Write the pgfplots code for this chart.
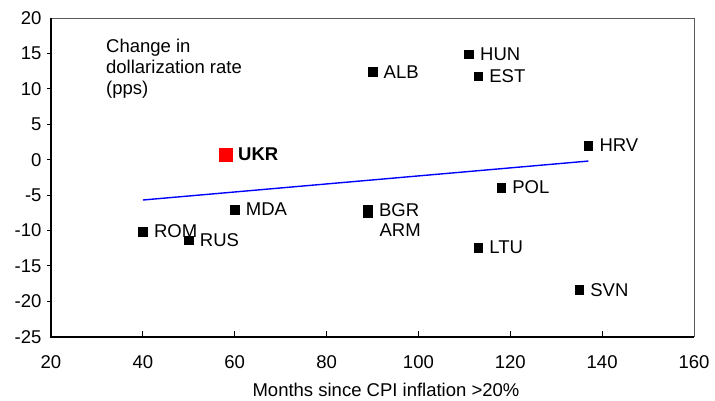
\documentclass[border=0pt]{standalone}
\usepackage{pgfplots}
\pgfplotsset{compat=1.18}
\usepackage{fontspec}
\setmainfont{Liberation Sans}
\usetikzlibrary{calc}
\pgfplotstableread{
x y lab
111 14.9 HUN
113 11.8 EST
90 12.4 ALB
137 2.0 HRV
118 -3.95 POL
60 -7.05 MDA
40 -10.15 ROM
50 -11.4 RUS
89 -7.1 BGR
113 -12.4 LTU
135 -18.4 SVN
}\dataA
\begin{document}
\begin{tikzpicture}[font=\fontsize{18.5}{21}\selectfont]
\begin{axis}[
  scale only axis, width=643pt, height=318.7pt,
  xmin=20, xmax=160, ymin=-25, ymax=20,
  xtick={20,40,...,160}, ytick={-25,-20,...,20},
  tick pos=left,
  major tick length=0pt,
  axis line style={gray!70!black, line width=0.6pt},
  /pgf/number format/assume math mode=true,
  ticklabel style={font=\fontsize{18.5}{21}\selectfont},
  xticklabel style={yshift=-15pt},
  yticklabel style={xshift=-6pt},
  clip=false,
]
\addplot[blue, line width=1.4pt] coordinates {(40,-5.7) (137,-0.2)};
\addplot[only marks, mark=square*, mark size=4.3pt, black,
  nodes near coords, point meta=explicit symbolic,
  every node near coord/.append style={anchor=west, inner sep=0pt, xshift=11pt, black, font=\fontsize{18.5}{21}\selectfont}]
  table[x=x, y=y, meta=lab] {\dataA};
\addplot[only marks, mark=square*, mark size=4.3pt, black,
  nodes near coords, point meta=explicit symbolic,
  every node near coord/.append style={anchor=west, inner sep=0pt, xshift=11.5pt, yshift=-17pt, black, font=\fontsize{18.5}{21}\selectfont}]
  table[x=x, y=y, meta=lab] {
x y lab
89 -7.5 ARM
};
\addplot[only marks, mark=square*, mark size=6.6pt, red,
  nodes near coords, point meta=explicit symbolic,
  every node near coord/.append style={anchor=west, inner sep=0pt, xshift=12.5pt, black, font=\fontsize{18.5}{21}\selectfont\bfseries}]
  table[x=x, y=y, meta=lab] {
x y lab
58 0.7 UKR
};
\draw[black, line width=2pt] (rel axis cs:0,1) -- (rel axis cs:0,0) -- (rel axis cs:1,0);
\pgfplotsinvokeforeach{40,60,80,100,120,140}{\draw[black, line width=0.8pt] (axis cs:#1,-25) -- ([yshift=6pt]axis cs:#1,-25);}
\pgfplotsinvokeforeach{-20,-15,-10,-5,0,5,10,15}{\draw[black, line width=0.8pt] (axis cs:20,#1) -- ([xshift=-4pt]axis cs:20,#1);}
\node[anchor=north west, align=left, inner sep=0pt] at (rel axis cs:0.0855,0.9357) {Change in\\dollarization rate\\(pps)};
\node[anchor=base, inner sep=0pt] at (rel axis cs:0.521,0) [yshift=-59.5pt] {Months since CPI inflation >20\%};
\coordinate (bl) at (rel axis cs:0,0);
\coordinate (tr) at (rel axis cs:1,1);
\end{axis}
\pgfresetboundingbox
\path ($(bl)+(-51pt,-64.3pt)$) rectangle ($(tr)+(21pt,18pt)$);
\end{tikzpicture}
\end{document}
